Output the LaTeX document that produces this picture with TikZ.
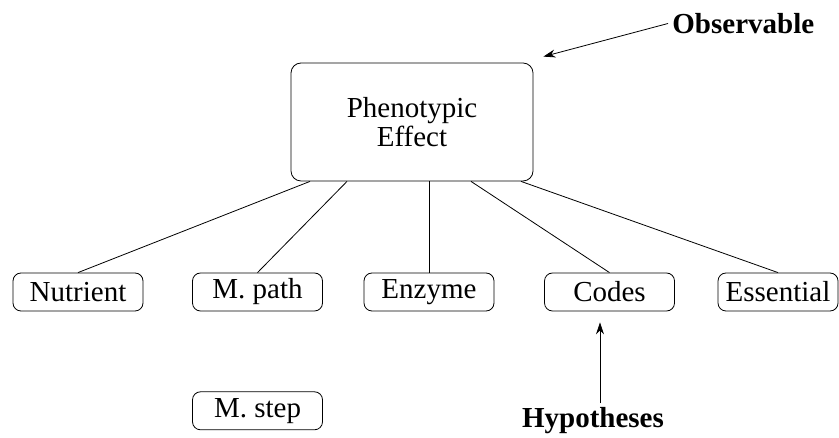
\documentclass[tikz,border=0pt]{standalone}
\usepackage{fontspec}
\setmainfont{Liberation Serif}
\usetikzlibrary{arrows.meta}
\usetikzlibrary{positioning}

\begin{document}
\begin{tikzpicture}[x=.5pt, y=.5pt, >={Stealth[length=6pt,width=4pt]},
  font=\fontsize{14.5}{14.5}\selectfont]
\tikzset{
  effbox/.style={draw, rounded corners=5pt, minimum width=121pt, minimum height=59pt, align=center},
  hypbox/.style={draw, rounded corners=4pt, minimum width=65pt, minimum height=19pt, inner sep=0pt},
  note/.style={font=\fontsize{14.5}{14.5}\selectfont\bfseries, inner sep=2pt}
}
\useasboundingbox (0,0) rectangle (839,438);
% top box
\node[effbox] (pheno) at (412,316) {Phenotypic\\Effect};
% hypotheses
\node[hypbox] (nutrient) at (78,146) {Nutrient};
\node[hypbox] (mpath) at (257.5,146) {M. path};
\node[hypbox] (enzyme) at (429,146) {Enzyme};
\node[hypbox] (codes) at (609.5,146) {Codes};
\node[hypbox, minimum width=60pt] (essential) at (778,146) {Essential};
\node[hypbox, below=40pt of mpath] (mstep) {M. step};
\foreach \dx/\n in {-102/nutrient, -65/mpath, 17/enzyme, 59/codes, 109/essential}
  \draw ([shift={(\dx,0)}]pheno.south) -- (\n.north);
% labels
\node[note, anchor=west] (obs) at (668,414.5) {Observable};
\coordinate (obstip) at ([shift={(10,6)}]pheno.north east);
\draw[->] (obs.west) -- (obstip);
\node[note] (hyp) at (593,17) {Hypotheses};
\coordinate (hyptip) at ([shift={(-9.5,-11)}]codes.south);
\draw[->] (hyp.north -| hyptip) -- (hyptip);
\end{tikzpicture}
\end{document}
